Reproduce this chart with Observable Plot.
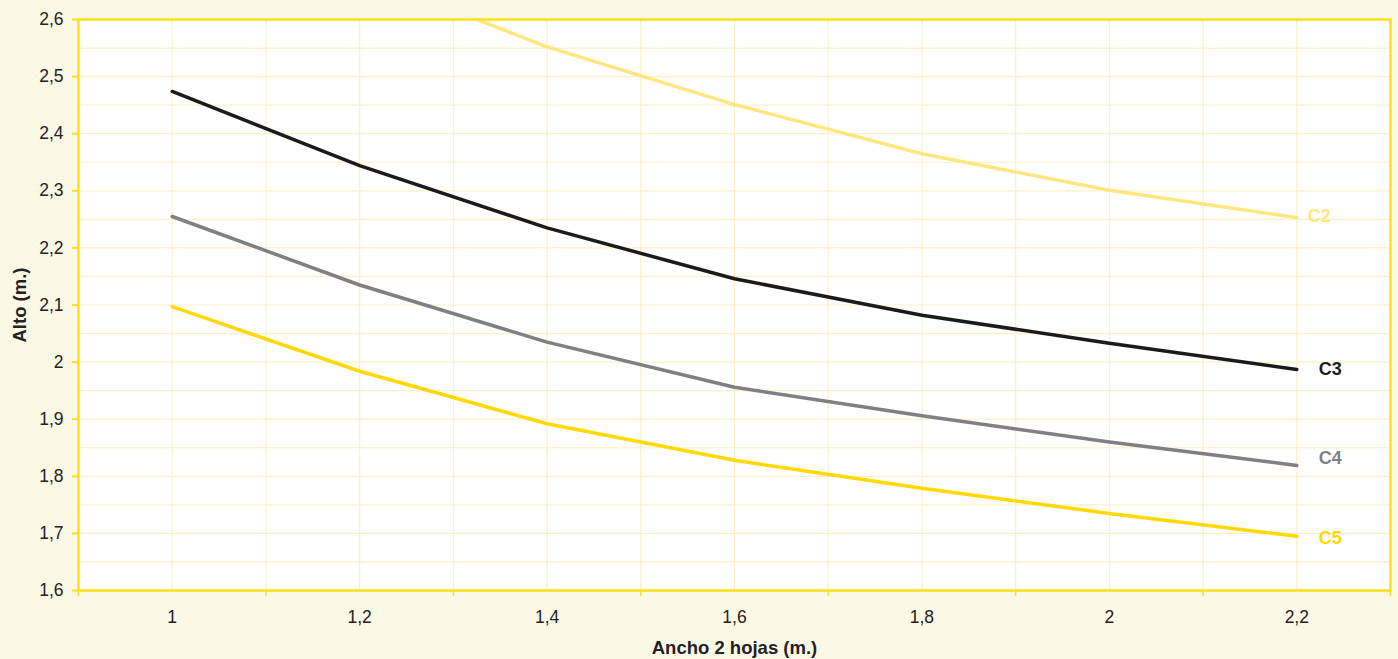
<!DOCTYPE html>
<html>
<head>
<meta charset="utf-8">
<script src="https://cdn.jsdelivr.net/npm/d3@7"></script>
<script src="https://cdn.jsdelivr.net/npm/@observablehq/plot@0.6"></script>
<style>
  html, body { margin: 0; padding: 0; background: #fcf8e6; }
  #chart svg { display: block; }
</style>
</head>
<body>
<div id="chart"></div>
<script>
// ---- data ----
const anchos = [1, 1.2, 1.4, 1.6, 1.8, 2, 2.2];
const seriesNames = ["C2", "C3", "C4", "C5"];
const c2 = [2.84, 2.68, 2.552, 2.451, 2.365, 2.301, 2.253];
const c3 = [2.474, 2.344, 2.235, 2.146, 2.082, 2.033, 1.987];
const c4 = [2.255, 2.135, 2.035, 1.956, 1.906, 1.860, 1.819];
const c5 = [2.097, 1.984, 1.892, 1.828, 1.779, 1.735, 1.695];
const yTicks = [1.6, 1.7, 1.8, 1.9, 2, 2.1, 2.2, 2.3, 2.4, 2.5, 2.6];
const yGrid = [1.65, 1.7, 1.75, 1.8, 1.85, 1.9, 1.95, 2, 2.05, 2.1, 2.15, 2.2, 2.25, 2.3, 2.35, 2.4, 2.45, 2.5, 2.55];
const xLabels = [1, 1.2, 1.4, 1.6, 1.8, 2, 2.2];
const xGrid = [1, 1.1, 1.2, 1.3, 1.4, 1.5, 1.6, 1.7, 1.8, 1.9, 2, 2.1, 2.2];
const xTickMarks = [0.9, 1.1, 1.3, 1.5, 1.7, 1.9, 2.1, 2.3];
const xTitle = "Ancho 2 hojas (m.)";
const yTitle = "Alto (m.)";

const colors = { C2: "#ffe77f", C3: "#1c1a1a", C4: "#7f7f84", C5: "#ffd900" };
const values = { C2: c2, C3: c3, C4: c4, C5: c5 };
const data = seriesNames.flatMap(s => anchos.map((a, i) => ({ serie: s, ancho: a, alto: values[s][i] })));
const lastPts = seriesNames.map(s => ({ serie: s, ancho: anchos[anchos.length - 1], alto: values[s][anchos.length - 1] }));

const fmt = d => String(+d.toFixed(2)).replace(".", ",");
const yellow = "#ffdf1a";
const grid = "#fdf0c4";
const font = "Liberation Sans, Arial, sans-serif";

const labelStyle = { C2: { dx: 11, dy: -1 }, C3: { dx: 22, dy: 0 }, C4: { dx: 22, dy: -7 }, C5: { dx: 22, dy: 2 } };

const chart = Plot.plot({
  width: 1398,
  height: 659,
  marginLeft: 78,
  marginTop: 19,
  marginRight: 8,
  marginBottom: 69,
  style: { background: "transparent", fontFamily: font, fontSize: "17.5px", color: "#222" },
  x: { domain: [0.9, 2.3] },
  y: { domain: [1.6, 2.6] },
  marks: [
    Plot.frame({ fill: "white", stroke: null }),
    Plot.ruleY(yGrid, { stroke: grid, strokeWidth: 1.2 }),
    Plot.ruleX(xGrid, { stroke: grid, strokeWidth: 1.2 }),
    Plot.line(data, {
      x: "ancho", y: "alto", z: "serie",
      stroke: d => colors[d.serie],
      strokeWidth: 3.5,
      clip: true
    }),
    ...seriesNames.map(s => Plot.text(lastPts.filter(d => d.serie === s), {
      x: "ancho", y: "alto", text: "serie",
      textAnchor: "start",
      dx: labelStyle[s].dx, dy: labelStyle[s].dy,
      fill: colors[s],
      fontWeight: "bold",
      fontSize: 18
    })),
    Plot.frame({ stroke: yellow, strokeWidth: 2.5 }),
    Plot.axisY({
      ticks: yTicks, tickFormat: fmt, tickSize: 6, tickPadding: 9,
      stroke: yellow, strokeWidth: 2, fill: "#222", fontSize: 17.5, label: null
    }),
    Plot.axisX({
      ticks: xTickMarks, tickFormat: () => "", tickSize: 6,
      stroke: yellow, strokeWidth: 1.5, label: null
    }),
    Plot.axisX({
      ticks: xLabels, tickFormat: fmt, tickSize: 0, tickPadding: 20,
      fill: "#222", fontSize: 17.5, label: null
    }),
    Plot.text([xTitle], {
      frameAnchor: "bottom", dy: 58, text: d => d,
      lineAnchor: "middle", textAnchor: "middle",
      fontWeight: "bold", fontSize: 18.5, fill: "#222"
    }),
    Plot.text([yTitle], {
      frameAnchor: "left", dx: -58, rotate: -90, text: d => d,
      lineAnchor: "middle", textAnchor: "middle",
      fontWeight: "bold", fontSize: 18.5, fill: "#222"
    })
  ]
});

document.getElementById("chart").appendChild(chart);
</script>
</body>
</html>
